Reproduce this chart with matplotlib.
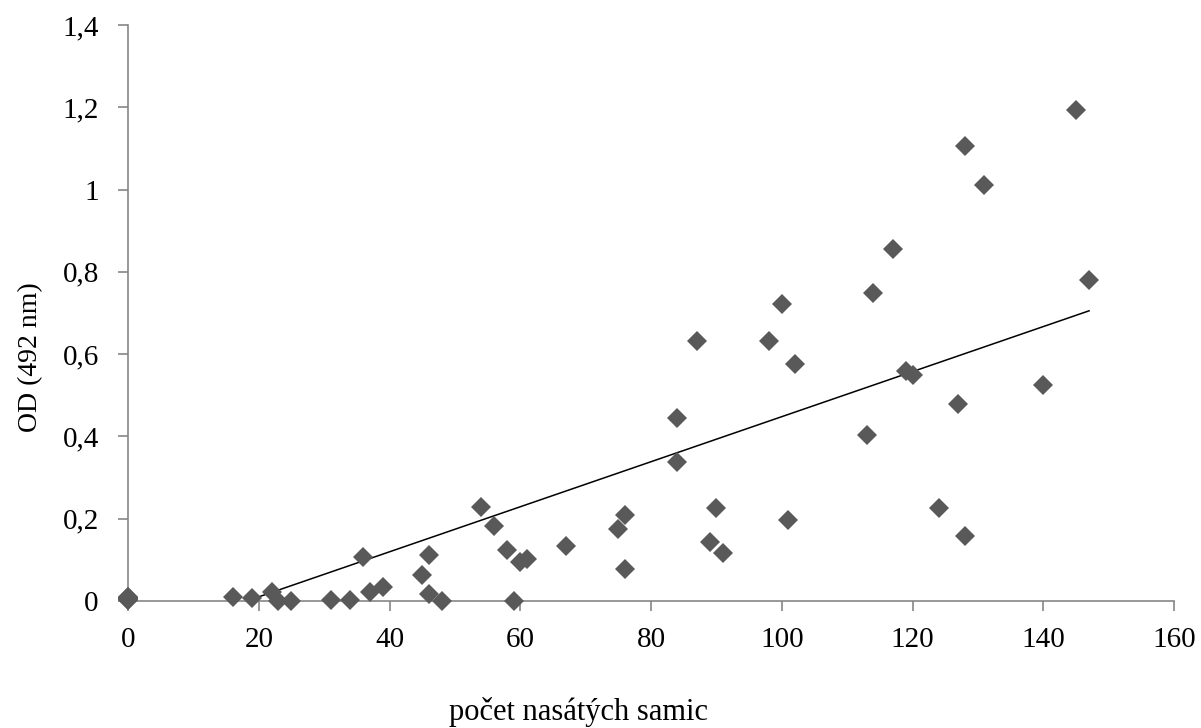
import numpy as np
import matplotlib
matplotlib.use("Agg")
import matplotlib.pyplot as plt

# počet nasátých samic vs. OD (492 nm)
females = [0, 0, 0, 0, 0, 0, 0, 0, 0, 0, 0,
           16, 19, 22, 23, 25, 31, 34, 36, 37, 39, 45, 46, 46, 48,
           54, 56, 58, 59, 60, 61, 67, 75, 76, 76, 84, 84, 87, 89, 90, 91,
           98, 100, 101, 102, 113, 114, 117, 119, 120, 124, 127, 128, 128,
           131, 140, 145, 147]
od = [0.004, 0.010, 0.003, 0.005, 0.006, 0.008, 0.002, 0.007, 0.005, 0.009,
      0.006,
      0.009, 0.007, 0.021, 0.001, 0.001, 0.003, 0.003, 0.108,
      0.021, 0.035, 0.064, 0.111, 0.016, 0.000, 0.229, 0.182, 0.125, 0.000,
      0.095, 0.103, 0.133, 0.176, 0.210, 0.077, 0.445, 0.338, 0.632, 0.143,
      0.227, 0.117, 0.632, 0.721, 0.198, 0.576, 0.404, 0.748, 0.856, 0.560,
      0.549, 0.227, 0.478, 1.105, 0.159, 1.012, 0.526, 1.193, 0.780]

x_ticks = [0, 20, 40, 60, 80, 100, 120, 140, 160]
y_ticks = [0, 0.2, 0.4, 0.6, 0.8, 1.0, 1.2, 1.4]
y_tick_labels = ["0", "0,2", "0,4", "0,6", "0,8", "1", "1,2", "1,4"]

plt.rcParams['font.family'] = ['Liberation Serif', 'DejaVu Serif']

fig = plt.figure(figsize=(12.01, 7.28), dpi=100)
ax = fig.add_axes([0.1066, 0.1745, 0.8710, 0.7912])

x = np.array(females, dtype=float)
y = np.array(od)

# linear trendline, clipped at y = 0 like the axis minimum
slope, intercept = np.polyfit(x, y, 1)
x_start = max(x.min(), -intercept / slope)
xs = np.array([x_start, x.max()])
ax.plot(xs, slope * xs + intercept, color='black', linewidth=1.1, zorder=2)

ax.plot(x, y, linestyle='none', marker='D', markersize=10,
        color='#595959', markeredgewidth=0, zorder=3, clip_on=False)

ax.set_xlim(0, 160)
ax.set_ylim(0, 1.4)
ax.set_xticks(x_ticks)
ax.set_yticks(y_ticks)
ax.set_yticklabels(y_tick_labels)

for side in ['top', 'right']:
    ax.spines[side].set_visible(False)
for side in ['left', 'bottom']:
    ax.spines[side].set_color('#868686')
    ax.spines[side].set_linewidth(1.2)

ax.tick_params(axis='both', colors='#868686', labelcolor='black',
               labelsize=21, length=7, width=1.2, direction='out')
ax.tick_params(axis='x', pad=12)
ax.tick_params(axis='y', pad=14)

ax.set_xlabel('počet nasátých samic', fontsize=22)
ax.xaxis.set_label_coords(0.431, -0.166)
ax.set_ylabel('OD (492 nm)', fontsize=20)
ax.yaxis.set_label_coords(-0.081, 0.423)

fig.savefig('out.png', dpi=100)
